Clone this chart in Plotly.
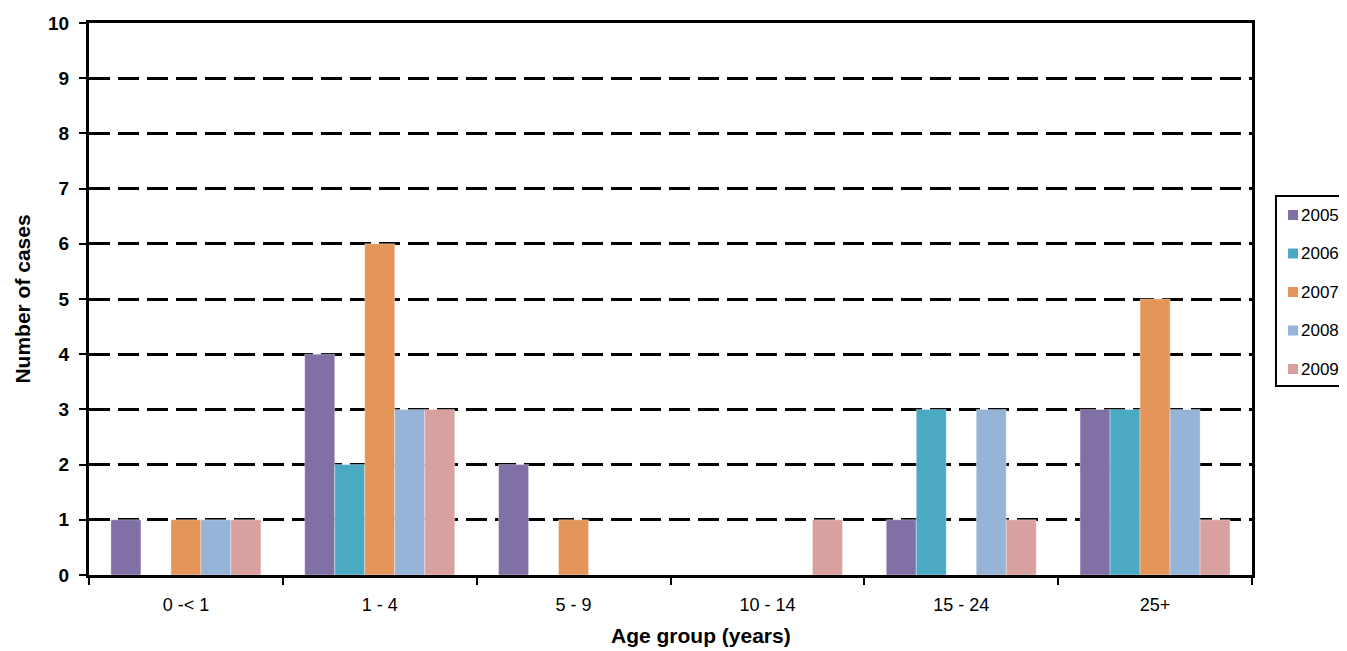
import plotly.graph_objects as go

# Cases by age group and year
age_groups = ['0 -< 1', '1 - 4', '5 - 9', '10 - 14', '15 - 24', '25+']
years = ['2005', '2006', '2007', '2008', '2009']
cases_2005 = [1, 4, 2, 0, 1, 3]
cases_2006 = [0, 2, 0, 0, 3, 3]
cases_2007 = [1, 6, 1, 0, 0, 5]
cases_2008 = [1, 3, 0, 0, 3, 3]
cases_2009 = [1, 3, 0, 1, 1, 1]
y_ticks = list(range(0, 11))

series = [cases_2005, cases_2006, cases_2007, cases_2008, cases_2009]
colors = ['#8170A6', '#4BAAC3', '#E4955A', '#96B3D8', '#D9A0A0']

fig = go.Figure()
for year, vals, col in zip(years, series, colors):
    fig.add_trace(go.Bar(
        x=age_groups,
        y=vals,
        name=year,
        marker=dict(color=col, line=dict(width=0.6, color='rgba(255,255,255,0.6)')),
    ))

axis_font = 'Arial, Liberation Sans, sans-serif'

# legend drawn by hand (box + swatches + labels) so it sits at the right edge like the original
plot_w, plot_h = 1163, 552
shapes = [dict(
    type='rect', xref='paper', yref='paper',
    x0=1.0206, x1=1.12, y0=0.3424, y1=0.6866,
    line=dict(color='black', width=2), fillcolor='white', layer='above',
)]
annotations = [dict(
    text='<b>Age group (years)</b>',
    x=0.526, y=-0.109,
    xref='paper', yref='paper',
    xanchor='center', yanchor='middle',
    showarrow=False,
    font=dict(size=21, family=axis_font),
)]
for i, (year, col) in enumerate(zip(years, colors)):
    cy = 1 - (192 + 38.5 * i) / plot_h
    shapes.append(dict(
        type='rect', xref='paper', yref='paper',
        x0=1.0310, x1=1.0396, y0=cy - 5.0 / plot_h, y1=cy + 5.0 / plot_h,
        line=dict(width=0), fillcolor=col, layer='above',
    ))
    annotations.append(dict(
        text=year, x=1.0404, y=cy,
        xref='paper', yref='paper',
        xanchor='left', yanchor='middle',
        showarrow=False,
        font=dict(size=17, family=axis_font),
    ))

fig.update_layout(
    width=1339,
    height=643,
    barmode='group',
    bargap=0.226,
    bargroupgap=0,
    plot_bgcolor='white',
    paper_bgcolor='white',
    font=dict(family=axis_font, color='black'),
    margin=dict(l=81, r=95, t=15, b=76, autoexpand=False),
    showlegend=False,
    shapes=shapes,
    annotations=annotations,
)

fig.update_xaxes(
    showline=True,
    linecolor='black',
    linewidth=3,
    mirror=True,
    ticks='outside',
    tickson='boundaries',
    ticklen=7,
    tickwidth=2,
    tickcolor='black',
    tickfont=dict(size=18, family=axis_font),
    ticklabelstandoff=11,
    showgrid=False,
)

fig.update_yaxes(
    range=[0, 10],
    tickvals=y_ticks,
    ticktext=['<b>%d</b>' % v for v in y_ticks],
    showline=True,
    linecolor='black',
    linewidth=3,
    mirror=True,
    ticks='outside',
    ticklen=7,
    tickwidth=2,
    tickcolor='black',
    tickfont=dict(size=19, family=axis_font),
    ticklabelstandoff=6,
    showgrid=True,
    gridcolor='black',
    gridwidth=2.5,
    griddash='21px,8px',
    zeroline=False,
    title=dict(text='<b>Number of cases</b>', font=dict(size=21, family=axis_font), standoff=12),
)

fig.write_html('out.html')
